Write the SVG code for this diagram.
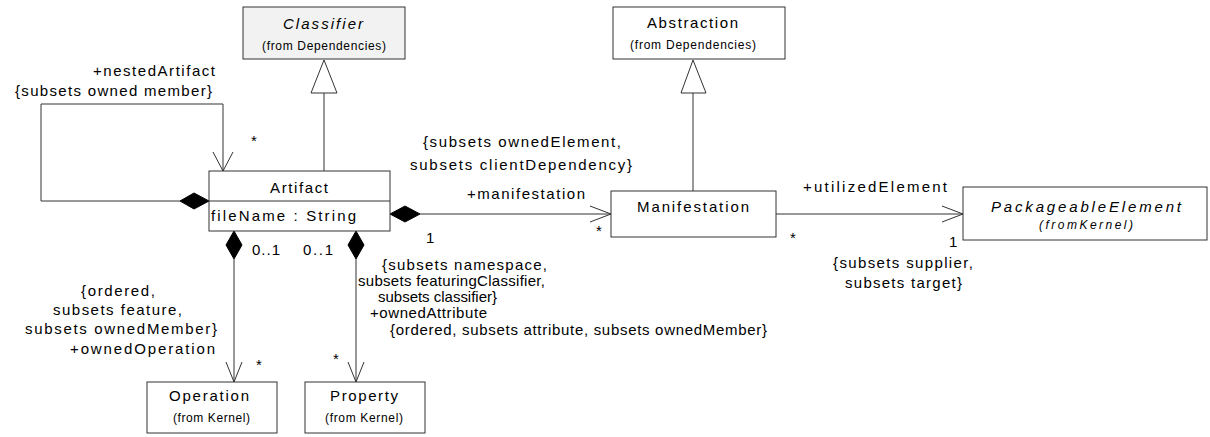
<svg xmlns="http://www.w3.org/2000/svg" width="1210" height="437" viewBox="0 0 1210 437">
<style>
text{font-family:"Liberation Sans",Arial,sans-serif;font-size:15px;fill:#000}
.s{font-size:12px}
.i{font-style:italic}
.box{fill:#fff;stroke:#333;stroke-width:1}
.gray{fill:#f2f2f2}
.ln{fill:none;stroke:#333;stroke-width:1}
.dia{fill:#000;stroke:#000;stroke-width:1}
.tri{fill:#fff;stroke:#333;stroke-width:1}
</style>
<rect width="1210" height="437" fill="#fff"/>
<g id="connectors">
<path class="ln" d="M324,93 V171"/>
<polygon class="tri" points="324,60 311,93 337,93"/>
<path class="ln" d="M693,93 V191"/>
<polygon class="tri" points="693,60 681,93 706,93"/>
<path class="ln" d="M180,201 H41 V104 H223 V171"/>
<polyline class="ln" points="213,152 223,171 233,152"/>
<polygon class="dia" points="209,201 194,193 180,201 194,209"/>
<path class="ln" d="M420,214 H611"/>
<polyline class="ln" points="590,206 611,214 590,222"/>
<polygon class="dia" points="390,214 405,206 420,214 405,222"/>
<path class="ln" d="M776,214 H963"/>
<polyline class="ln" points="942,206 963,214 942,222"/>
<path class="ln" d="M234,259 V382"/>
<polyline class="ln" points="226,362 234,382 242,362"/>
<polygon class="dia" points="234,231 242,245 234,259 226,245"/>
<path class="ln" d="M356,259 V382"/>
<polyline class="ln" points="348,362 356,382 364,362"/>
<polygon class="dia" points="356,231 364,245 356,259 348,245"/>
<text x="93" y="76" textLength="122" lengthAdjust="spacing">+nestedArtifact</text>
<text x="15" y="96" textLength="197" lengthAdjust="spacing">{subsets owned member}</text>
<text x="251" y="146">*</text>
<text x="423" y="147" textLength="198" lengthAdjust="spacing">{subsets ownedElement,</text>
<text x="410" y="170" textLength="222" lengthAdjust="spacing">subsets clientDependency}</text>
<text x="467" y="199" textLength="118" lengthAdjust="spacing">+manifestation</text>
<text x="426" y="243">1</text>
<text x="596" y="236">*</text>
<text x="803" y="192" textLength="144" lengthAdjust="spacing">+utilizedElement</text>
<text x="790" y="243">*</text>
<text x="949" y="247">1</text>
<text x="833" y="268" textLength="140" lengthAdjust="spacing">{subsets supplier,</text>
<text x="845" y="288" textLength="117" lengthAdjust="spacing">subsets target}</text>
<text x="252" y="255" textLength="28" lengthAdjust="spacing">0..1</text>
<text x="303" y="255" textLength="30" lengthAdjust="spacing">0..1</text>
<text x="81" y="296" textLength="74" lengthAdjust="spacing">{ordered,</text>
<text x="53" y="315" textLength="129" lengthAdjust="spacing">subsets feature,</text>
<text x="25" y="334" textLength="192" lengthAdjust="spacing">subsets ownedMember}</text>
<text x="70" y="354" textLength="145" lengthAdjust="spacing">+ownedOperation</text>
<text x="256" y="370">*</text>
<text x="333" y="364">*</text>
<text x="382" y="270" textLength="165" lengthAdjust="spacing">{subsets namespace,</text>
<text x="358" y="286" textLength="187" lengthAdjust="spacing">subsets featuringClassifier,</text>
<text x="378" y="302" textLength="119" lengthAdjust="spacing">subsets classifier}</text>
<text x="370" y="318" textLength="117" lengthAdjust="spacing">+ownedAttribute</text>
<text x="390" y="335" textLength="377" lengthAdjust="spacing">{ordered, subsets attribute, subsets ownedMember}</text>
</g>
<g id="classifier">
<rect class="box gray" x="243" y="7" width="162" height="52"/>
<text class="i" x="283" y="29" textLength="80" lengthAdjust="spacing">Classifier</text>
<text class="s" x="262" y="50" textLength="124" lengthAdjust="spacing">(from Dependencies)</text>
</g>
<g id="abstraction">
<rect class="box" x="613" y="7" width="172" height="52"/>
<text x="647" y="28" textLength="91" lengthAdjust="spacing">Abstraction</text>
<text class="s" x="630" y="49" textLength="126" lengthAdjust="spacing">(from Dependencies)</text>
</g>
<g id="artifact">
<rect class="box" x="209" y="171" width="181" height="60"/>
<line class="ln" x1="209" y1="201" x2="390" y2="201"/>
<text x="270" y="193" textLength="58" lengthAdjust="spacing">Artifact</text>
<text x="211" y="221" textLength="145" lengthAdjust="spacing">fileName : String</text>
</g>
<g id="manifestation">
<rect class="box" x="611" y="191" width="165" height="46"/>
<text x="637" y="212" textLength="112" lengthAdjust="spacing">Manifestation</text>
</g>
<g id="packageableElement">
<rect class="box" x="963" y="187" width="244" height="53"/>
<text class="i" x="991" y="212" textLength="190" lengthAdjust="spacing">PackageableElement</text>
<text class="s i" x="1039" y="229" textLength="94" lengthAdjust="spacing">(fromKernel)</text>
</g>
<g id="operation">
<rect class="box" x="147" y="382" width="130" height="51"/>
<text x="169" y="401" textLength="80" lengthAdjust="spacing">Operation</text>
<text class="s" x="173" y="422" textLength="77" lengthAdjust="spacing">(from Kernel)</text>
</g>
<g id="property">
<rect class="box" x="305" y="382" width="120" height="51"/>
<text x="330" y="401" textLength="68" lengthAdjust="spacing">Property</text>
<text class="s" x="325" y="422" textLength="78" lengthAdjust="spacing">(from Kernel)</text>
</g>
</svg>
